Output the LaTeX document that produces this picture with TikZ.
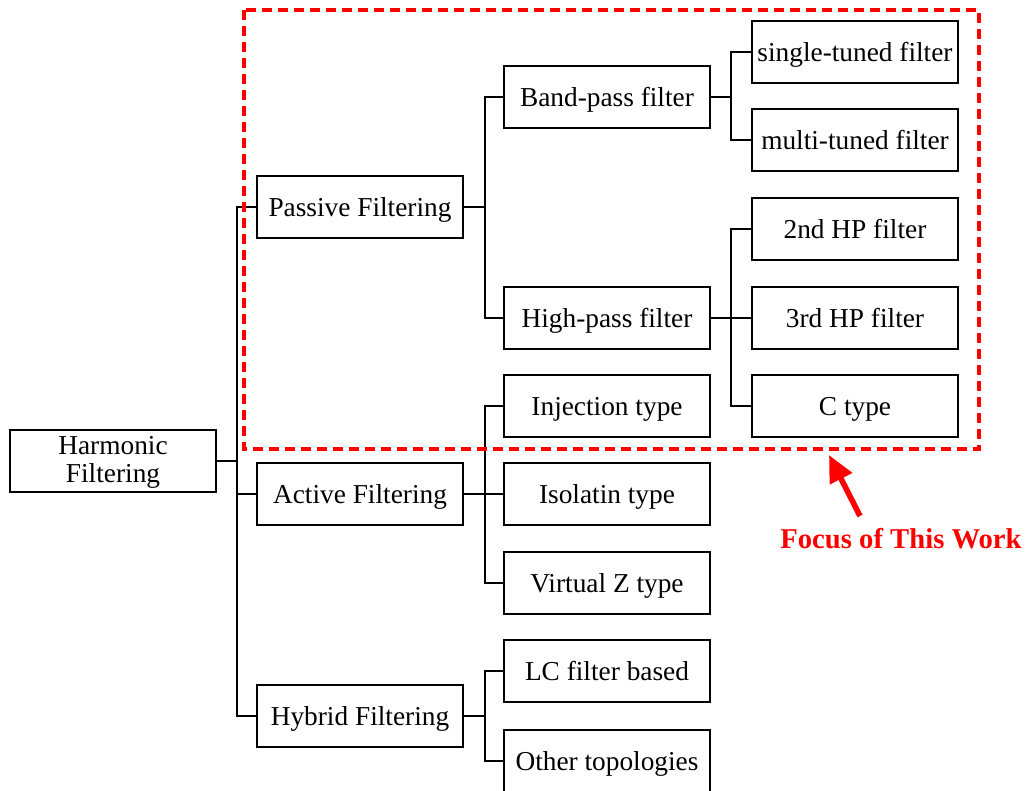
\documentclass[tikz,border=0pt]{standalone}
\usepackage{fontspec}
\setmainfont{Liberation Serif}
\usetikzlibrary{arrows.meta}
\definecolor{focusred}{RGB}{255,0,0}
\begin{document}
\begin{tikzpicture}[x=0.75pt,y=-0.75pt,
  box/.style={draw=black,line width=2.2pt,minimum width=154.5pt,minimum height=46.5pt,inner sep=0pt,align=center,text height=16pt,text depth=1.5pt,font=\fontsize{20.5}{21}\selectfont},
  conn/.style={draw=black,line width=2pt},
]
\useasboundingbox (0,0) rectangle (1029,791);
\node[box,text height=35pt,text depth=2pt] (harm) at (113,461) {Harmonic\\Filtering};
\node[box] (passive) at (360,207) {Passive Filtering};
\node[box] (active) at (360,494) {Active Filtering};
\node[box] (hybrid) at (360,716) {Hybrid Filtering};
\node[box] (band) at (607,97) {Band-pass filter};
\node[box] (high) at (607,318) {High-pass filter};
\node[box] (inj) at (607,406) {Injection type};
\node[box] (iso) at (607,494) {Isolatin type};
\node[box] (virt) at (607,583) {Virtual Z type};
\node[box] (lc) at (607,671) {LC filter based};
\node[box] (other) at (607,761) {Other topologies};
\node[box] (single) at (855,52) {single-tuned filter};
\node[box] (multi) at (855,140) {multi-tuned filter};
\node[box] (hp2) at (855,229) {2nd HP filter};
\node[box] (hp3) at (855,318) {3rd HP filter};
\node[box] (ctype) at (855,406) {C type};

\coordinate (j1) at (237,461);
\coordinate (j2) at (485,207);
\coordinate (j3) at (731,97);
\coordinate (j4) at (731,318);
\coordinate (j5) at (485,494);
\coordinate (j6) at (485,716);

\draw[conn] (harm.east) -- (j1);
\draw[conn] (j1) |- (passive.west);
\draw[conn] (j1) |- (active.west);
\draw[conn] (j1) |- (hybrid.west);

\draw[conn] (passive.east) -- (j2);
\draw[conn] (j2) |- (band.west);
\draw[conn] (j2) |- (high.west);

\draw[conn] (band.east) -- (j3);
\draw[conn] (j3) |- (single.west);
\draw[conn] (j3) |- (multi.west);

\draw[conn] (high.east) -- (j4);
\draw[conn] (j4) |- (hp2.west);
\draw[conn] (j4) |- (hp3.west);
\draw[conn] (j4) |- (ctype.west);

\draw[conn] (active.east) -- (j5);
\draw[conn] (j5) |- (inj.west);
\draw[conn] (j5) |- (iso.west);
\draw[conn] (j5) |- (virt.west);

\draw[conn] (hybrid.east) -- (j6);
\draw[conn] (j6) |- (lc.west);
\draw[conn] (j6) |- (other.west);

\draw[focusred,line width=2.6pt,dash pattern=on 7.5pt off 4.5pt] (244,10) rectangle (979,449);

\node[text=focusred,font=\fontsize{21.5}{24}\selectfont\bfseries] (focus) at (901,539) {Focus of This Work};
\coordinate (tail) at (860,516);
\coordinate (tip) at (829,455);
\draw[focusred,line width=4.2pt,-{Triangle[length=20pt,width=18pt]}] (tail) -- (tip);
\end{tikzpicture}
\end{document}
